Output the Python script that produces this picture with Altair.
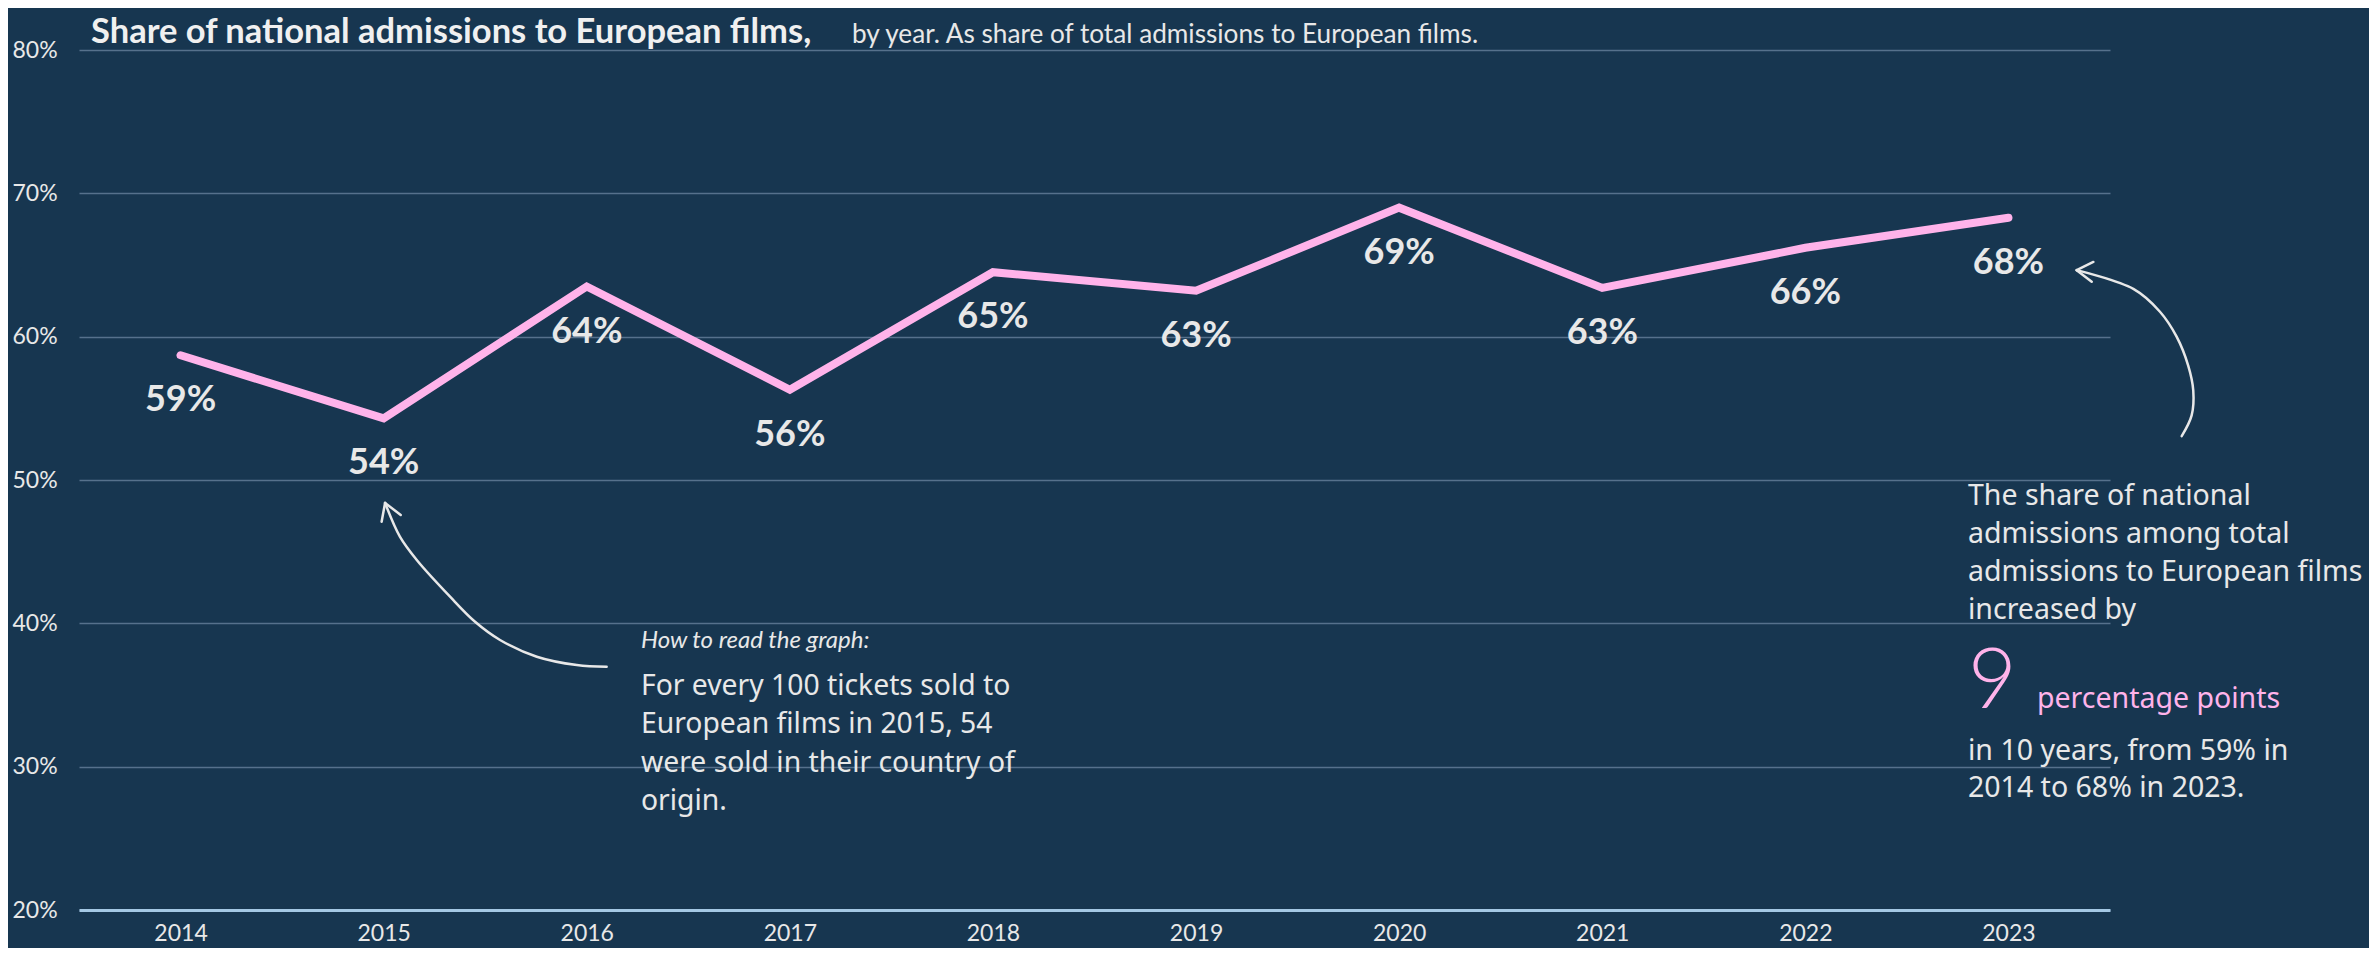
import altair as alt
import pandas as pd

# ---------------- data ----------------
years = [2014, 2015, 2016, 2017, 2018, 2019, 2020, 2021, 2022, 2023]
share = [58.7, 54.3, 63.5, 56.3, 64.5, 63.2, 69.0, 63.4, 66.2, 68.3]
share_labels = ["59%", "54%", "64%", "56%", "65%", "63%", "69%", "63%", "66%", "68%"]
y_ticks = [20, 30, 40, 50, 60, 70, 80]

# annotation arrows, in chart units (year, percent)
arrow_left_x = [2015.007, 2015.080, 2015.163, 2015.327, 2015.450, 2015.573, 2015.754, 2015.951, 2016.098]
arrow_left_y = [48.40, 46.05, 44.42, 41.86, 40.11, 38.84, 37.67, 37.09, 36.97]
arrow_right_x = [2023.336, 2023.615, 2023.746, 2023.828, 2023.885, 2023.910, 2023.902, 2023.853]
arrow_right_y = [64.64, 63.33, 61.74, 60.00, 57.98, 56.24, 54.51, 53.06]
head_tip_x = [2015.007, 2015.007, 2023.336, 2023.336]
head_tip_y = [48.40, 48.40, 64.64, 64.64]
head_arm_x = [2014.990, 2015.084, 2023.418, 2023.410]
head_arm_y = [47.09, 47.56, 65.21, 63.83]

title_text = "Share of national admissions to European films,"
subtitle_text = "by year. As share of total admissions to European films."
how_to_title = "How to read the graph:"
how_to_lines = ["For every 100 tickets sold to", "European films in 2015, 54",
                "were sold in their country of", "origin."]
right_lines_top = ["The share of national", "admissions among total",
                   "admissions to European films", "increased by"]
big_number = "9"
big_unit = "percentage points"
right_lines_bottom = ["in 10 years, from 59% in", "2014 to 68% in 2023."]

# ---------------- style ----------------
BG = "#173650"
GRID = "#56718c"
BASE = "#a4c8e4"
PINK = "#ffb3ea"
TEXT = "#e8e8e8"

x_scale = alt.Scale(domain=[2013.5, 2023.5], nice=False, zero=False)
y_scale = alt.Scale(domain=[20, 80], nice=False, zero=False)

df = pd.DataFrame({"year": years, "share": share, "label": share_labels})
left_df = pd.DataFrame({"ax": arrow_left_x, "ay": arrow_left_y, "i": list(range(len(arrow_left_x)))})
right_df = pd.DataFrame({"ax": arrow_right_x, "ay": arrow_right_y, "i": list(range(len(arrow_right_x)))})
head_df = pd.DataFrame({"x1": head_tip_x, "y1": head_tip_y, "x2": head_arm_x, "y2": head_arm_y})
one = pd.DataFrame({"k": [0]})

line = alt.Chart(df).mark_line(
    color=PINK, strokeWidth=8, strokeCap="round", strokeJoin="miter"
).encode(
    x=alt.X("year:Q", scale=x_scale, title=None,
            axis=alt.Axis(values=years, format="d", grid=False, ticks=False, tickSize=0,
                          domain=True, domainColor=BASE, domainWidth=3, labelPadding=12,
                          labelFont="Lato", labelFontSize=23, labelColor=TEXT)),
    y=alt.Y("share:Q", scale=y_scale, title=None,
            axis=alt.Axis(values=y_ticks, labelExpr="datum.value + '%'", grid=True,
                          gridColor=GRID, gridWidth=1.5, domain=False, ticks=False, tickSize=0,
                          labelAlign="left", labelPadding=67, labelFont="Lato",
                          labelFontSize=23, labelColor=TEXT, labelBaseline="middle")),
)

labels = alt.Chart(df).mark_text(
    font="Lato", fontWeight="bold", fontSize=36, color=TEXT,
    baseline="alphabetic", align="center", dy=56
).encode(
    x=alt.X("year:Q", scale=x_scale, title=None),
    y=alt.Y("share:Q", scale=y_scale, title=None),
    text="label:N",
)

arrow_l = alt.Chart(left_df).mark_line(
    color=TEXT, strokeWidth=2.5, interpolate="catmull-rom", strokeCap="round"
).encode(
    x=alt.X("ax:Q", scale=x_scale, title=None),
    y=alt.Y("ay:Q", scale=y_scale, title=None),
    order="i:Q",
)
arrow_r = alt.Chart(right_df).mark_line(
    color=TEXT, strokeWidth=2.5, interpolate="catmull-rom", strokeCap="round"
).encode(
    x=alt.X("ax:Q", scale=x_scale, title=None),
    y=alt.Y("ay:Q", scale=y_scale, title=None),
    order="i:Q",
)
heads = alt.Chart(head_df).mark_rule(color=TEXT, strokeWidth=2.5, strokeCap="round").encode(
    x=alt.X("x1:Q", scale=x_scale, title=None),
    y=alt.Y("y1:Q", scale=y_scale, title=None),
    x2="x2:Q",
    y2="y2:Q",
)


def txt(x, y, text, **kw):
    return alt.Chart(one).mark_text(text=text, align="left", baseline="alphabetic", **kw).encode(
        x=alt.value(x), y=alt.value(y))


title = txt(12, -7, title_text, font="Lato", fontWeight="bold", fontSize=34.5, color="#f0f0f0")
subtitle = txt(773, -7, subtitle_text, font="Lato", fontSize=26.2, color=TEXT)
how_t = txt(562, 598, how_to_title, font="Lato", fontStyle="italic", fontSize=24, color=TEXT)
how_l = txt(562, 645, how_to_lines, font="Noto Sans", fontSize=28.3, lineHeight=38.3, color=TEXT)
right_t = txt(1889, 455, right_lines_top, font="Noto Sans", fontSize=28.5, lineHeight=38, color=TEXT)
big9 = txt(1889, 658, big_number, font="Lato", fontWeight=300, fontSize=84, color=PINK)
unit = txt(1958, 658, big_unit, font="Noto Sans", fontSize=28.5, color=PINK)
right_b = txt(1889, 710, right_lines_bottom, font="Noto Sans", fontSize=28.5, lineHeight=37, color=TEXT)

chart = alt.layer(
    line, labels, arrow_l, arrow_r, heads,
    title, subtitle, how_t, how_l, right_t, big9, unit, right_b
).properties(
    width=2031, height=860,
    padding={"left": 71, "top": 42, "right": 259, "bottom": 38},
    autosize=alt.AutoSizeParams(type="none"),
    background=BG,
).configure_view(strokeWidth=0)

chart.save("out.html", embed_options={"renderer": "svg", "actions": False})
